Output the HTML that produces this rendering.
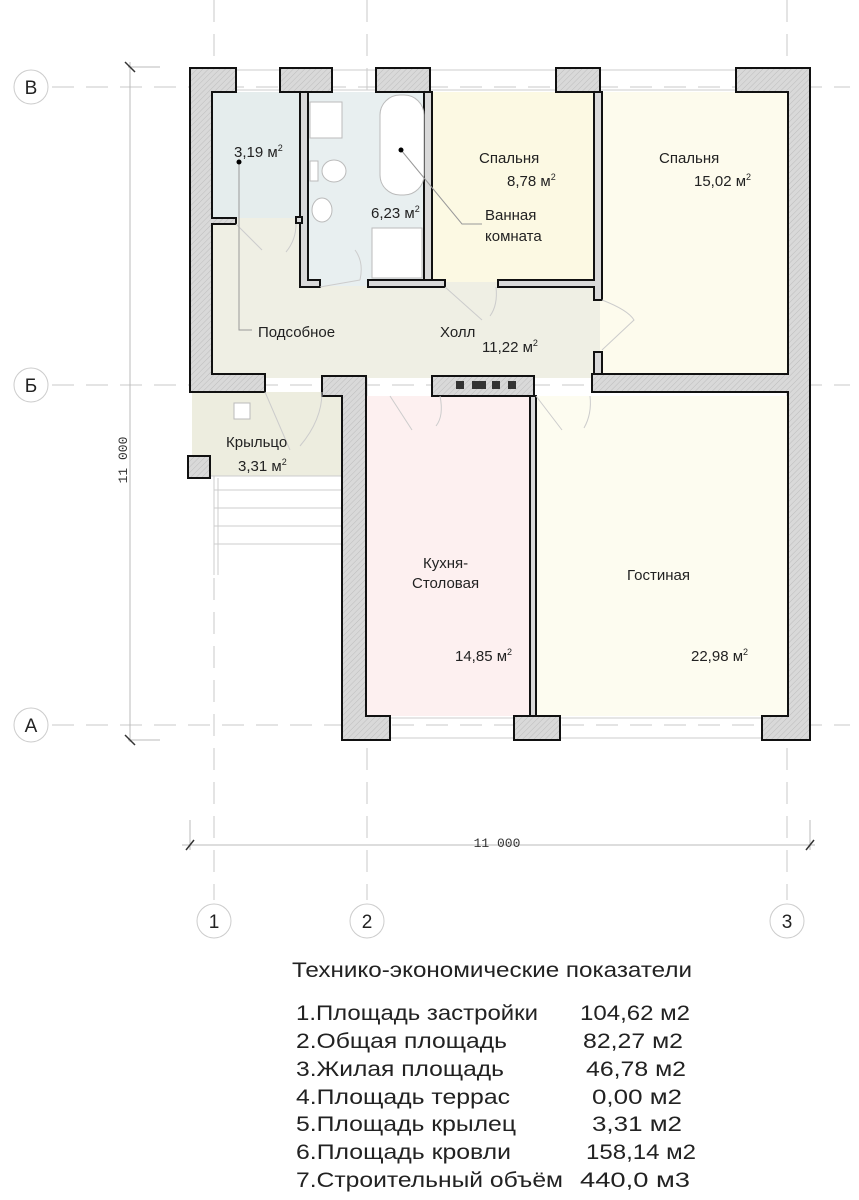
<!DOCTYPE html>
<html><head><meta charset="utf-8"><style>
html,body{margin:0;padding:0;background:#fff;}
svg{display:block;font-family:"Liberation Sans",sans-serif;}
</style></head><body>
<svg width="859" height="1200" viewBox="0 0 859 1200" xmlns="http://www.w3.org/2000/svg">
<defs>
<pattern id="h" width="4" height="4" patternUnits="userSpaceOnUse" patternTransform="rotate(45)">
<rect width="4" height="4" fill="#d9d9d9"/><line x1="0" y1="0" x2="0" y2="4" stroke="#bdbdbd" stroke-width="1"/>
</pattern>
</defs>
<g stroke="#c8c8c8" stroke-width="1" stroke-dasharray="22,12" fill="none">
<line x1="52" y1="87" x2="850" y2="87"/>
<line x1="52" y1="385" x2="850" y2="385"/>
<line x1="52" y1="725" x2="850" y2="725"/>
<line x1="214" y1="0" x2="214" y2="900"/>
<line x1="367" y1="0" x2="367" y2="900"/>
<line x1="787" y1="0" x2="787" y2="900"/>
</g>
<g fill="#fff" stroke="#ccc" stroke-width="1">
<circle cx="31" cy="87" r="17"/><circle cx="31" cy="385" r="17"/><circle cx="31" cy="725" r="17"/>
<circle cx="214" cy="921" r="17"/><circle cx="367" cy="921" r="17"/><circle cx="787" cy="921" r="17"/>
</g>
<g font-size="19" fill="#222" text-anchor="middle">
<text x="31" y="94">B</text><text x="31" y="392">Б</text><text x="31" y="732">A</text>
<text x="214" y="928">1</text><text x="367" y="928">2</text><text x="787" y="928">3</text>
</g>
<g stroke="#bbb" stroke-width="1">
<line x1="130" y1="62" x2="130" y2="742"/>
<line x1="128" y1="67" x2="160" y2="67"/><line x1="128" y1="740" x2="160" y2="740"/>
<line x1="182" y1="845" x2="815" y2="845"/>
<line x1="190" y1="820" x2="190" y2="850"/><line x1="810" y1="820" x2="810" y2="850"/>
</g>
<g stroke="#333" stroke-width="1.5">
<line x1="125" y1="62" x2="135" y2="72"/><line x1="125" y1="735" x2="135" y2="745"/>
<line x1="186" y1="850" x2="194" y2="840"/><line x1="806" y1="850" x2="814" y2="840"/>
</g>
<text x="497" y="847" font-family="Liberation Mono,monospace" font-size="13" fill="#333" text-anchor="middle">11 000</text>
<text transform="translate(127,460) rotate(-90)" font-family="Liberation Mono,monospace" font-size="13" fill="#333" text-anchor="middle">11 000</text>

<rect x="210" y="218" width="390" height="160" fill="#efefe4"/>
<rect x="210" y="92" width="92" height="126" fill="#e5eded"/>
<rect x="306" y="92" width="122" height="194" fill="#e8eff0"/>
<rect x="430" y="92" width="166" height="190" fill="#fcf9e3"/>
<rect x="600" y="92" width="190" height="284" fill="#fdfbed"/>
<rect x="192" y="392" width="150" height="84" fill="#ededdf"/>
<rect x="366" y="396" width="166" height="320" fill="#fdf0f0"/>
<rect x="534" y="396" width="256" height="320" fill="#fdfcf0"/>
<g stroke="#ccc" fill="none">
<rect x="236" y="70" width="44" height="20"/><rect x="332" y="70" width="44" height="20"/>
<rect x="430" y="70" width="126" height="20"/><rect x="600" y="70" width="136" height="20"/>
<rect x="390" y="718" width="124" height="20"/><rect x="560" y="718" width="202" height="20"/>
<line x1="192" y1="476" x2="342" y2="476"/>
<line x1="214" y1="490" x2="342" y2="490"/><line x1="214" y1="508" x2="342" y2="508"/>
<line x1="214" y1="526" x2="342" y2="526"/><line x1="214" y1="544" x2="342" y2="544"/>
<line x1="214" y1="478" x2="214" y2="575"/><line x1="218" y1="478" x2="218" y2="575"/>
</g>
<g fill="url(#h)" stroke="#111" stroke-width="2" stroke-linejoin="miter">
<path d="M190,68 H236 V92 H212 V218 H236 V224 H212 V374 H265 V392 H190 Z"/>
<rect x="280" y="68" width="52" height="24"/>
<rect x="376" y="68" width="54" height="24"/>
<rect x="556" y="68" width="44" height="24"/>
<path d="M736,68 H810 V740 H762 V716 H788 V392 H592 V374 H788 V92 H736 Z"/>
<path d="M322,376 H366 V716 H390 V740 H342 V396 H322 Z"/>
<rect x="514" y="716" width="46" height="24"/>
<rect x="432" y="376" width="102" height="20"/>
<rect x="188" y="456" width="22" height="22"/>
</g>
<g fill="#d9d9d9" stroke="#111" stroke-width="2">
<path d="M300,92 H308 V280 H320 V287 H300 Z"/>
<rect x="296" y="217" width="6" height="6"/>
<path d="M368,280 H445 V287 H368 Z"/>
<path d="M424,92 H432 V280 H424 Z"/>
<path d="M498,280 H594 V92 H602 V300 H594 V287 H498 Z"/>
<rect x="594" y="352" width="8" height="22"/>
<rect x="530" y="396" width="6" height="320"/>
</g>
<g fill="#333"><rect x="456" y="381" width="8" height="8"/><rect x="472" y="381" width="14" height="8"/><rect x="492" y="381" width="8" height="8"/><rect x="508" y="381" width="8" height="8"/></g>
<g fill="#fff" stroke="#bbb">
<rect x="380" y="95" width="44" height="100" rx="20"/>
<rect x="372" y="228" width="50" height="50"/>
<rect x="310" y="102" width="32" height="36"/>
<ellipse cx="334" cy="171" rx="12" ry="11"/><rect x="310" y="161" width="8" height="20"/>
<ellipse cx="322" cy="210" rx="10" ry="12"/>
<rect x="234" y="403" width="16" height="16"/>
</g>
<g stroke="#ccc" fill="none">
<path d="M236,224 L262,250 M296,224 Q296,240 286,252"/>
<path d="M320,287 L360,280 M355,250 Q364,262 360,280"/>
<path d="M445,287 L482,320 M496,287 Q498,305 490,316"/>
<path d="M602,300 Q628,310 634,320 L602,350"/>
<path d="M390,396 L412,430 M440,396 Q444,416 436,426"/>
<path d="M536,396 L562,430 M590,396 Q592,414 584,428"/>
<path d="M265,392 L290,450 M322,392 Q322,420 300,446"/>
</g>
<g stroke="#999" fill="none">
<polyline points="239,162 239,330 252,330"/>
<polyline points="401,150 462,224 482,224"/>
</g>
<circle cx="239" cy="162" r="2.5" fill="#000"/><circle cx="401" cy="150" r="2.5" fill="#000"/>
<g font-size="15" fill="#222">
<text x="234" y="157">3,19 м<tspan font-size="9" dy="-6">2</tspan></text>
<text x="371" y="218">6,23 м<tspan font-size="9" dy="-6">2</tspan></text>
<text x="479" y="163">Спальня</text>
<text x="507" y="186">8,78 м<tspan font-size="9" dy="-6">2</tspan></text>
<text x="485" y="220">Ванная</text>
<text x="485" y="241">комната</text>
<text x="659" y="163">Спальня</text>
<text x="694" y="186">15,02 м<tspan font-size="9" dy="-6">2</tspan></text>
<text x="258" y="337">Подсобное</text>
<text x="440" y="337">Холл</text>
<text x="482" y="352">11,22 м<tspan font-size="9" dy="-6">2</tspan></text>
<text x="226" y="447">Крыльцо</text>
<text x="238" y="471">3,31 м<tspan font-size="9" dy="-6">2</tspan></text>
<text x="423" y="568">Кухня-</text>
<text x="412" y="588">Столовая</text>
<text x="627" y="580">Гостиная</text>
<text x="455" y="661">14,85 м<tspan font-size="9" dy="-6">2</tspan></text>
<text x="691" y="661">22,98 м<tspan font-size="9" dy="-6">2</tspan></text>
</g>
<g font-size="21" fill="#222">
<text x="292" y="977" textLength="400" lengthAdjust="spacingAndGlyphs">Технико-экономические показатели</text>
<text x="296" y="1020" textLength="242" lengthAdjust="spacingAndGlyphs">1.Площадь застройки</text>
<text x="580" y="1020" textLength="110" lengthAdjust="spacingAndGlyphs">104,62 м2</text>
<text x="296" y="1048" textLength="211" lengthAdjust="spacingAndGlyphs">2.Общая площадь</text>
<text x="583" y="1048" textLength="100" lengthAdjust="spacingAndGlyphs">82,27 м2</text>
<text x="296" y="1076" textLength="208" lengthAdjust="spacingAndGlyphs">3.Жилая площадь</text>
<text x="586" y="1076" textLength="100" lengthAdjust="spacingAndGlyphs">46,78 м2</text>
<text x="296" y="1104" textLength="214" lengthAdjust="spacingAndGlyphs">4.Площадь террас</text>
<text x="592" y="1104" textLength="90" lengthAdjust="spacingAndGlyphs">0,00 м2</text>
<text x="296" y="1131" textLength="220" lengthAdjust="spacingAndGlyphs">5.Площадь крылец</text>
<text x="592" y="1131" textLength="90" lengthAdjust="spacingAndGlyphs">3,31 м2</text>
<text x="296" y="1159" textLength="215" lengthAdjust="spacingAndGlyphs">6.Площадь кровли</text>
<text x="586" y="1159" textLength="110" lengthAdjust="spacingAndGlyphs">158,14 м2</text>
<text x="296" y="1187" textLength="267" lengthAdjust="spacingAndGlyphs">7.Строительный объём</text>
<text x="580" y="1187" textLength="110" lengthAdjust="spacingAndGlyphs">440,0 м3</text>
</g>
</svg>
</body></html>
